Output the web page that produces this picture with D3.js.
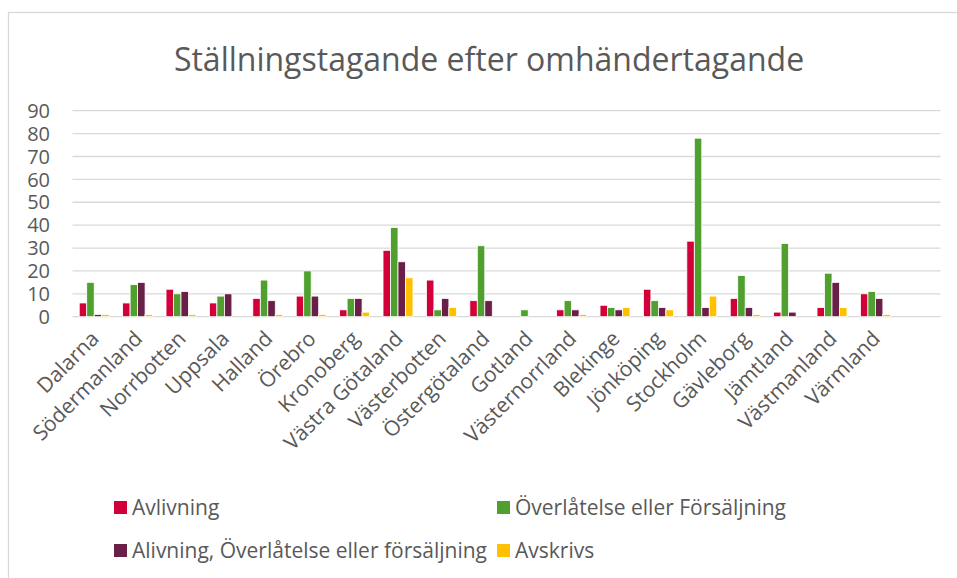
<!DOCTYPE html>
<html>
<head>
<meta charset="utf-8">
<title>Ställningstagande efter omhändertagande</title>
<script src="https://cdn.jsdelivr.net/npm/d3@7"></script>
<style>
	body {
		margin: 0;
		background: white;
		font-family: "Open Sans", sans-serif;
	}
	svg text {
		fill: #595959;
	}
	.grid line {
		stroke: #d9d9d9;
		stroke-width: 1.3px;
	}
	.bar rect {
		stroke: white;
		stroke-width: 0.8px;
	}
</style>
</head>
<body>
<svg id="chart"></svg>
<script>

	// data
	var regions = ["Dalarna", "Södermanland", "Norrbotten", "Uppsala", "Halland", "Örebro",
		"Kronoberg", "Västra Götaland", "Västerbotten", "Östergötaland", "Gotland",
		"Västernorrland", "Blekinge", "Jönköping", "Stockholm", "Gävleborg", "Jämtland",
		"Västmanland", "Värmland", ""];

	var seriesNames = ["Avlivning", "Överlåtelse eller Försäljning",
		"Alivning, Överlåtelse eller försäljning", "Avskrivs"];

	var avlivning   = [6, 6, 12, 6, 8, 9, 3, 29, 16, 7, 0, 3, 5, 12, 33, 8, 2, 4, 10, null];
	var overlatelse = [15, 14, 10, 9, 16, 20, 8, 39, 3, 31, 3, 7, 4, 7, 78, 18, 32, 19, 11, null];
	var alivningOvl = [1, 15, 11, 10, 7, 9, 8, 24, 8, 7, 0, 3, 3, 4, 4, 4, 2, 15, 8, null];
	var avskrivs    = [1, 1, 1, 0, 1, 1, 2, 17, 4, 0, 0, 1, 4, 3, 9, 1, 0, 4, 1, null];

	var yTicks = [0, 10, 20, 30, 40, 50, 60, 70, 80, 90];
	var colors = ["#d20039", "#50a030", "#6a1f48", "#ffc000"];

	var series = [avlivning, overlatelse, alivningOvl, avskrivs];

	var width = 957, height = 578,
		plotLeft = 72.5, plotRight = 940.5,
		plotTop = 110.7, plotBottom = 316.7;

	var svg = d3.select("#chart")
		.attr("width", width)
		.attr("height", height);

	// chart frame
	svg.append("rect")
		.attr("x", 8.5).attr("y", 12.5)
		.attr("width", 1000).attr("height", 700)
		.attr("fill", "none")
		.attr("stroke", "#d9d9d9")
		.attr("stroke-width", 1.3);

	svg.append("text")
		.attr("x", 489).attr("y", 71)
		.attr("text-anchor", "middle")
		.style("font-size", "32px")
		.text("Ställningstagande efter omhändertagande");

	var x = d3.scaleBand()
		.domain(d3.range(regions.length))
		.range([plotLeft, plotRight])
		.paddingInner(0.31)
		.paddingOuter(0.155);

	var xInner = d3.scaleBand()
		.domain(d3.range(series.length))
		.range([0, x.bandwidth()]);

	var y = d3.scaleLinear()
		.domain([0, 90])
		.range([plotBottom, plotTop]);

	// gridlines
	svg.append("g")
		.attr("class", "grid")
		.selectAll("line")
		.data(yTicks).enter().append("line")
			.attr("x1", plotLeft).attr("x2", plotRight)
			.attr("y1", d => y(d)).attr("y2", d => y(d));

	// y labels
	svg.append("g")
		.selectAll("text")
		.data(yTicks).enter().append("text")
			.attr("x", 50)
			.attr("y", d => y(d))
			.attr("dy", "0.36em")
			.attr("text-anchor", "end")
			.style("font-size", "20px")
			.text(d => d);

	// bars
	var groups = svg.append("g")
		.selectAll("g.bar")
		.data(regions).enter().append("g")
			.attr("class", "bar")
			.attr("transform", (d, i) => "translate(" + x(i) + ",0)");

	groups.selectAll("rect")
		.data((d, i) => series.map((s, k) => ({ k: k, v: s[i] })).filter(e => e.v))
		.enter().append("rect")
			.attr("x", e => xInner(e.k))
			.attr("width", xInner.bandwidth())
			.attr("y", e => y(e.v))
			.attr("height", e => y(0) - y(e.v))
			.attr("fill", e => colors[e.k]);

	// category labels
	svg.append("g")
		.selectAll("text")
		.data(regions).enter().append("text")
			.attr("text-anchor", "end")
			.attr("transform", (d, i) => "translate(" + (x(i) + x.bandwidth() / 2 + 6) + ",340) rotate(-45)")
			.style("font-size", "21px")
			.text(d => d);

	// legend
	var legendPos = [[114, 508], [497, 508], [114, 551], [497, 551]];
	var legend = svg.append("g")
		.selectAll("g")
		.data(seriesNames).enter().append("g")
			.attr("transform", (d, i) => "translate(" + legendPos[i][0] + "," + legendPos[i][1] + ")");
	legend.append("rect")
		.attr("x", 0).attr("y", -7)
		.attr("width", 13).attr("height", 13)
		.attr("fill", (d, i) => colors[i]);
	legend.append("text")
		.attr("x", 18)
		.attr("dy", "0.35em")
		.style("font-size", "21px")
		.text(d => d);

</script>
</body>
</html>
